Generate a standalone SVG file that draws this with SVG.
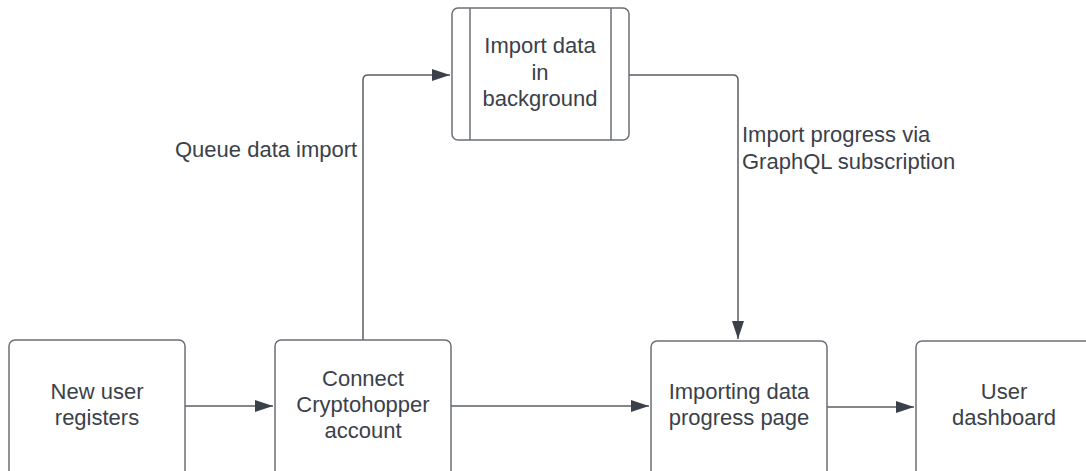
<svg xmlns="http://www.w3.org/2000/svg" width="1086" height="471" viewBox="0 0 1086 471">
  <defs>
    <style>
      .box { fill: #ffffff; stroke: #6b6f75; stroke-width: 1.5; }
      .edge { fill: none; stroke: #5a5f66; stroke-width: 1.5; }
      .lbl { font-family: "Liberation Sans", Arial, sans-serif; font-size: 22px; fill: #3a414a; }
      .mid { text-anchor: middle; }
    </style>
    <marker id="arrow" viewBox="0 0 18 12" refX="18" refY="6" markerWidth="18" markerHeight="12" markerUnits="userSpaceOnUse" orient="auto">
      <path d="M0,0 L18,6 L0,12 Z" fill="#3a414a"/>
    </marker>
  </defs>

  <rect width="1086" height="471" fill="#ffffff"/>

  <!-- connectors -->
  <g id="connectors">
    <path class="edge" d="M185,406 L273,406" marker-end="url(#arrow)"/>
    <path class="edge" d="M451,406 L649,406" marker-end="url(#arrow)"/>
    <path class="edge" d="M827,407 L914,407" marker-end="url(#arrow)"/>
    <path class="edge" d="M363,340 L363,80 Q363,75 368,75 L450,75" marker-end="url(#arrow)"/>
    <path class="edge" d="M629,75 L733,75 Q738,75 738,80 L738,339" marker-end="url(#arrow)"/>
    <text class="lbl" x="175" y="157">Queue data import</text>
    <text class="lbl" x="742" y="142">Import progress via</text>
    <text class="lbl" x="742" y="169">GraphQL subscription</text>
  </g>

  <!-- process nodes -->
  <g id="node-register">
    <rect class="box" x="9" y="340" width="176" height="140" rx="6"/>
    <text class="lbl mid" x="97" y="399">New user</text>
    <text class="lbl mid" x="97" y="425">registers</text>
  </g>

  <g id="node-connect">
    <rect class="box" x="275" y="340" width="176" height="140" rx="6"/>
    <text class="lbl mid" x="363" y="386">Connect</text>
    <text class="lbl mid" x="363" y="412">Cryptohopper</text>
    <text class="lbl mid" x="363" y="438">account</text>
  </g>

  <g id="node-import-bg">
    <rect class="box" x="452" y="8" width="177" height="132" rx="6"/>
    <line class="box" x1="470" y1="8" x2="470" y2="140"/>
    <line class="box" x1="611" y1="8" x2="611" y2="140"/>
    <text class="lbl mid" x="540" y="53">Import data</text>
    <text class="lbl mid" x="540" y="80">in</text>
    <text class="lbl mid" x="540" y="106">background</text>
  </g>

  <g id="node-progress">
    <rect class="box" x="651" y="341" width="176" height="140" rx="6"/>
    <text class="lbl mid" x="739" y="399">Importing data</text>
    <text class="lbl mid" x="739" y="425">progress page</text>
  </g>

  <g id="node-dashboard">
    <rect class="box" x="916" y="341" width="176" height="140" rx="6"/>
    <text class="lbl mid" x="1004" y="399">User</text>
    <text class="lbl mid" x="1004" y="425">dashboard</text>
  </g>
</svg>
